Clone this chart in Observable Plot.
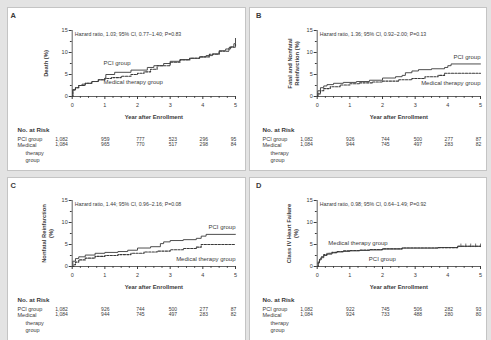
<!DOCTYPE html>
<html><head><meta charset="utf-8">
<script src="https://cdn.jsdelivr.net/npm/d3@7"></script>
<script src="https://cdn.jsdelivr.net/npm/@observablehq/plot@0.6"></script>
<style>
body{margin:0;background:#e3e3e3;}
#root{position:relative;width:491px;height:340px;overflow:hidden;font-family:"Liberation Sans",Arial,sans-serif;color:#3a3a3a;}
.panel{position:absolute;background:#fff;border:1px solid #c4c4c4;box-sizing:border-box;}
.letter{position:absolute;font-weight:bold;font-size:7.5px;line-height:1;}
#root svg{position:absolute;overflow:visible;}
</style></head>
<body><div id="root"></div>
<script>
// ---------- data ----------
const years = [0, 1, 2, 3, 4, 5];
const riskRows = ["PCI group", "Medical therapy group"];

// Panel A: Death
const aPciT = [0, 0.02, 0.1, 0.2, 0.3, 0.4, 0.6, 0.8, 1.0, 1.03, 1.3, 1.8, 2.3, 2.5, 2.8, 3.0, 3.3, 3.6, 3.9, 4.1, 4.3, 4.5, 4.7, 4.85, 4.95, 5.0];
const aPciV = [0, 1.5, 2.0, 2.5, 2.8, 3.0, 3.4, 3.8, 4.2, 5.0, 5.5, 6.0, 6.6, 7.0, 7.5, 8.0, 8.4, 8.7, 9.0, 9.3, 9.7, 10.4, 10.8, 11.3, 12.0, 13.2];
const aMedT = [0, 0.02, 0.1, 0.2, 0.4, 0.6, 0.8, 1.0, 1.2, 1.5, 1.8, 2.0, 2.2, 2.4, 2.6, 3.0, 3.3, 3.6, 3.9, 4.2, 4.5, 4.8, 5.0];
const aMedV = [0, 1.5, 2.0, 2.5, 3.0, 3.4, 3.8, 4.1, 4.3, 4.6, 5.0, 5.3, 5.6, 6.2, 7.0, 7.8, 8.3, 8.7, 9.0, 9.6, 10.3, 11.2, 12.0];
const aRiskPci = [1082, 959, 777, 523, 296, 95];
const aRiskMed = [1084, 965, 770, 517, 298, 84];

// Panel B: Fatal and nonfatal reinfarction
const bPciT = [0, 0.02, 0.1, 0.2, 0.3, 0.5, 0.8, 1.2, 1.6, 2.0, 2.4, 2.6, 2.7, 2.9, 3.1, 3.5, 3.9, 4.0, 4.1, 5.0];
const bPciV = [0, 1.3, 2.0, 2.4, 2.7, 3.0, 3.2, 3.4, 3.7, 4.2, 4.5, 4.8, 5.4, 5.8, 6.1, 6.3, 6.6, 7.0, 7.4, 7.4];
const bMedT = [0, 0.02, 0.1, 0.2, 0.4, 0.7, 1.0, 1.3, 1.7, 2.0, 2.5, 2.9, 3.3, 3.7, 3.9, 5.0];
const bMedV = [0, 0.6, 1.3, 1.8, 2.2, 2.6, 2.9, 3.1, 3.3, 3.5, 3.8, 4.1, 4.5, 4.8, 5.3, 5.3];
const bRiskPci = [1082, 926, 744, 500, 277, 87];
const bRiskMed = [1084, 944, 745, 497, 283, 82];

// Panel C: Nonfatal reinfarction
const cPciT = [0, 0.02, 0.1, 0.2, 0.4, 0.7, 1.0, 1.4, 1.7, 2.0, 2.4, 2.7, 2.8, 3.0, 3.4, 3.8, 3.95, 4.1, 5.0];
const cPciV = [0, 1.2, 1.8, 2.2, 2.6, 3.0, 3.2, 3.4, 3.7, 4.2, 4.5, 5.2, 5.6, 5.9, 6.1, 6.4, 6.9, 7.3, 7.3];
const cMedT = [0, 0.05, 0.1, 0.2, 0.4, 0.7, 1.0, 1.4, 1.8, 2.2, 2.6, 3.0, 3.4, 3.8, 3.95, 5.0];
const cMedV = [0, 0.4, 1.0, 1.5, 1.9, 2.3, 2.5, 2.7, 3.0, 3.3, 3.5, 3.8, 4.1, 4.4, 5.0, 5.0];
const cRiskPci = [1082, 926, 744, 500, 277, 87];
const cRiskMed = [1084, 944, 745, 497, 283, 82];

// Panel D: Class IV heart failure
const dPciT = [0, 0.03, 0.07, 0.12, 0.2, 0.3, 0.45, 0.6, 0.8, 1.0, 1.3, 1.6, 2.0, 2.6, 3.7, 4.3, 5.0];
const dPciV = [0, 0.8, 1.5, 2.0, 2.5, 2.8, 3.1, 3.3, 3.45, 3.55, 3.65, 3.75, 4.0, 4.2, 4.3, 4.6, 4.6];
const dMedT = [0, 0.03, 0.07, 0.12, 0.2, 0.3, 0.45, 0.6, 0.8, 1.0, 1.3, 1.6, 2.0, 2.6, 3.7, 4.3, 5.0];
const dMedV = [0, 1.0, 1.7, 2.2, 2.7, 3.0, 3.2, 3.4, 3.55, 3.65, 3.75, 3.85, 4.0, 4.2, 4.3, 4.6, 4.6];
const dCensorT = [4.4, 4.55, 4.7, 4.85, 5.0];
const dCensorV = [4.6, 4.6, 4.6, 4.6, 4.6];
const dRiskPci = [1082, 922, 745, 506, 282, 93];
const dRiskMed = [1084, 924, 733, 488, 280, 80];

const panels = [
  {letter: "A", ox: 0, oy: 0, ylab: "Death (%)", ydx: -26.5,
   hr: "Hazard ratio, 1.03; 95% CI, 0.77\u20131.40; P=0.83",
   pciT: aPciT, pciV: aPciV, medT: aMedT, medV: aMedV, riskPci: aRiskPci, riskMed: aRiskMed,
   labels: [{x: 0.96, y: 7.6, text: "PCI group", anchor: "start"}, {x: 0.96, y: 3.25, text: "Medical therapy group", anchor: "start"}]},
  {letter: "B", ox: 245, oy: 0, ylab: "Fatal and Nonfatal\nReinfarction (%)", ydx: -23.5,
   hr: "Hazard ratio, 1.36; 95% CI, 0.92\u20132.00; P=0.13",
   pciT: bPciT, pciV: bPciV, medT: bMedT, medV: bMedV, riskPci: bRiskPci, riskMed: bRiskMed,
   labels: [{x: 5, y: 8.9, text: "PCI group", anchor: "end"}, {x: 5, y: 3.0, text: "Medical therapy group", anchor: "end"}]},
  {letter: "C", ox: 0, oy: 170, ylab: "Nonfatal Reinfarction\n(%)", ydx: -25,
   hr: "Hazard ratio, 1.44; 95% CI, 0.96\u20132.16; P=0.08",
   pciT: cPciT, pciV: cPciV, medT: cMedT, medV: cMedV, riskPci: cRiskPci, riskMed: cRiskMed,
   labels: [{x: 5, y: 8.9, text: "PCI group", anchor: "end"}, {x: 5, y: 1.75, text: "Medical therapy group", anchor: "end"}]},
  {letter: "D", ox: 245, oy: 170, ylab: "Class IV Heart Failure\n(%)", ydx: -25,
   hr: "Hazard ratio, 0.98; 95% CI, 0.64\u20131.49; P=0.92",
   pciT: dPciT, pciV: dPciV, medT: dMedT, medV: dMedV, riskPci: dRiskPci, riskMed: dRiskMed,
   censorT: dCensorT, censorV: dCensorV,
   labels: [{x: 0.34, y: 5.3, text: "Medical therapy group", anchor: "start"}, {x: 1.58, y: 1.75, text: "PCI group", anchor: "start"}]}
];

// ---------- layout ----------
const root = document.getElementById("root");
const frames = [[7, 7, 239, 164], [249, 7, 238, 164], [7, 177, 239, 170], [249, 177, 238, 170]];
frames.forEach(([l, t, w, h]) => {
  const d = document.createElement("div");
  d.className = "panel";
  Object.assign(d.style, {left: l + "px", top: t + "px", width: w + "px", height: h + "px"});
  root.appendChild(d);
});

const FONT = '"Liberation Sans", Arial, sans-serif';
const INK = "#3a3a3a";
const intFmt = d3.format("d");

panels.forEach(p => {
  const W = p.ox === 0 ? 245 : 246;
  const pci = p.pciT.map((t, i) => ({t, v: p.pciV[i]}));
  const med = p.medT.map((t, i) => ({t, v: p.medV[i]}));
  const minorX = d3.range(0, 5.001, 0.25).filter(v => v % 1 !== 0);
  const marks = [
    Plot.ruleX([0], {stroke: INK, strokeWidth: 0.8}),
    Plot.ruleY([0], {stroke: INK, strokeWidth: 0.8}),
    Plot.axisY({ticks: [0, 5, 10, 15], tickSize: 3, tickPadding: 1.5, fontSize: 5.5, tickFormat: intFmt, label: null}),
    Plot.axisY({ticks: [2.5, 7.5, 12.5], tickSize: 1.8, tickFormat: () => "", label: null}),
    Plot.axisX({ticks: years, tickSize: 3, tickPadding: 3.2, fontSize: 5.5, tickFormat: intFmt, label: null}),
    Plot.axisX({ticks: minorX, tickSize: 1.8, tickFormat: () => "", label: null}),
    Plot.line(med, {x: "t", y: "v", curve: "step-after", stroke: INK, strokeWidth: 1.1, strokeDasharray: "2.2,1.3"}),
    Plot.line(pci, {x: "t", y: "v", curve: "step-after", stroke: INK, strokeWidth: 0.9}),
    Plot.text([p.hr], {frameAnchor: "top-left", dx: 2.5, dy: 4, textAnchor: "start", lineAnchor: "middle", fontSize: 5.2, fill: INK}),
    Plot.text(p.labels.filter(d => d.anchor === "start"), {x: "x", y: "y", text: "text", textAnchor: "start", fontSize: 6, fill: INK}),
    Plot.text(p.labels.filter(d => d.anchor === "end"), {x: "x", y: "y", text: "text", textAnchor: "end", fontSize: 6, fill: INK}),
    Plot.text([p.ylab], {frameAnchor: "left", dx: p.ydx, rotate: -90, fontWeight: "bold", fontSize: 5.8, lineAnchor: "middle", textAnchor: "middle", lineHeight: 1.2, fill: INK}),
    Plot.text(["Year after Enrollment"], {frameAnchor: "bottom", dy: 21, fontWeight: "bold", fontSize: 5.8, lineAnchor: "middle", fill: INK})
  ];
  if (p.censorT) {
    const cens = p.censorT.map((t, i) => ({t, v: p.censorV[i]}));
    marks.push(Plot.ruleX(cens, {x: "t", y1: d => d.v - 0.3, y2: d => d.v + 0.5, stroke: INK, strokeWidth: 0.7}));
  }
  const chart = Plot.plot({
    width: W, height: 122,
    marginLeft: 71.7, marginRight: W - 235, marginTop: 30, marginBottom: 26,
    x: {domain: [0, 5]}, y: {domain: [0, 15]},
    style: {fontFamily: FONT, color: INK, background: "transparent", overflow: "visible"},
    marks
  });
  chart.style.left = p.ox + "px"; chart.style.top = p.oy + "px";
  root.appendChild(chart);

  // risk table
  const risk = [];
  years.forEach((y, i) => {
    risk.push({year: y, row: riskRows[0], n: p.riskPci[i]});
    risk.push({year: y, row: riskRows[1], n: p.riskMed[i]});
  });
  const rowY = [16.8, 22.6];
  const table = Plot.plot({
    width: W, height: 48, margin: 0,
    x: {type: "pow", exponent: 0.85, domain: [0, 5], range: [61, 233], axis: null},
    y: {type: "point", domain: riskRows, range: rowY, padding: 0, axis: null},
    style: {fontFamily: FONT, color: INK, background: "transparent", overflow: "visible"},
    marks: [
      Plot.text(risk, {x: "year", y: "row", text: "n", fontSize: 5, fill: INK}),
      Plot.text(["No. at Risk"], {frameAnchor: "top-left", dx: 17, dy: 8, textAnchor: "start", lineAnchor: "middle", fontWeight: "bold", fontSize: 6.2, fill: INK}),
      Plot.text(["PCI group"], {frameAnchor: "top-left", dx: 17, dy: rowY[0], textAnchor: "start", lineAnchor: "middle", fontSize: 5.5, fill: INK}),
      Plot.text(["Medical"], {frameAnchor: "top-left", dx: 17, dy: rowY[1], textAnchor: "start", lineAnchor: "middle", fontSize: 5.5, fill: INK}),
      Plot.text(["therapy"], {frameAnchor: "top-left", dx: 25, dy: 30.6, textAnchor: "start", lineAnchor: "middle", fontSize: 5.5, fill: INK}),
      Plot.text(["group"], {frameAnchor: "top-left", dx: 25, dy: 38, textAnchor: "start", lineAnchor: "middle", fontSize: 5.5, fill: INK})
    ]
  });
  table.style.left = p.ox + "px"; table.style.top = (p.oy + 122) + "px";
  root.appendChild(table);

  const L = document.createElement("div");
  L.className = "letter";
  L.textContent = p.letter;
  L.style.left = (p.ox + (p.ox === 0 ? 10.5 : 11)) + "px";
  L.style.top = (p.oy + 12) + "px";
  root.appendChild(L);
});
</script>
</body></html>
